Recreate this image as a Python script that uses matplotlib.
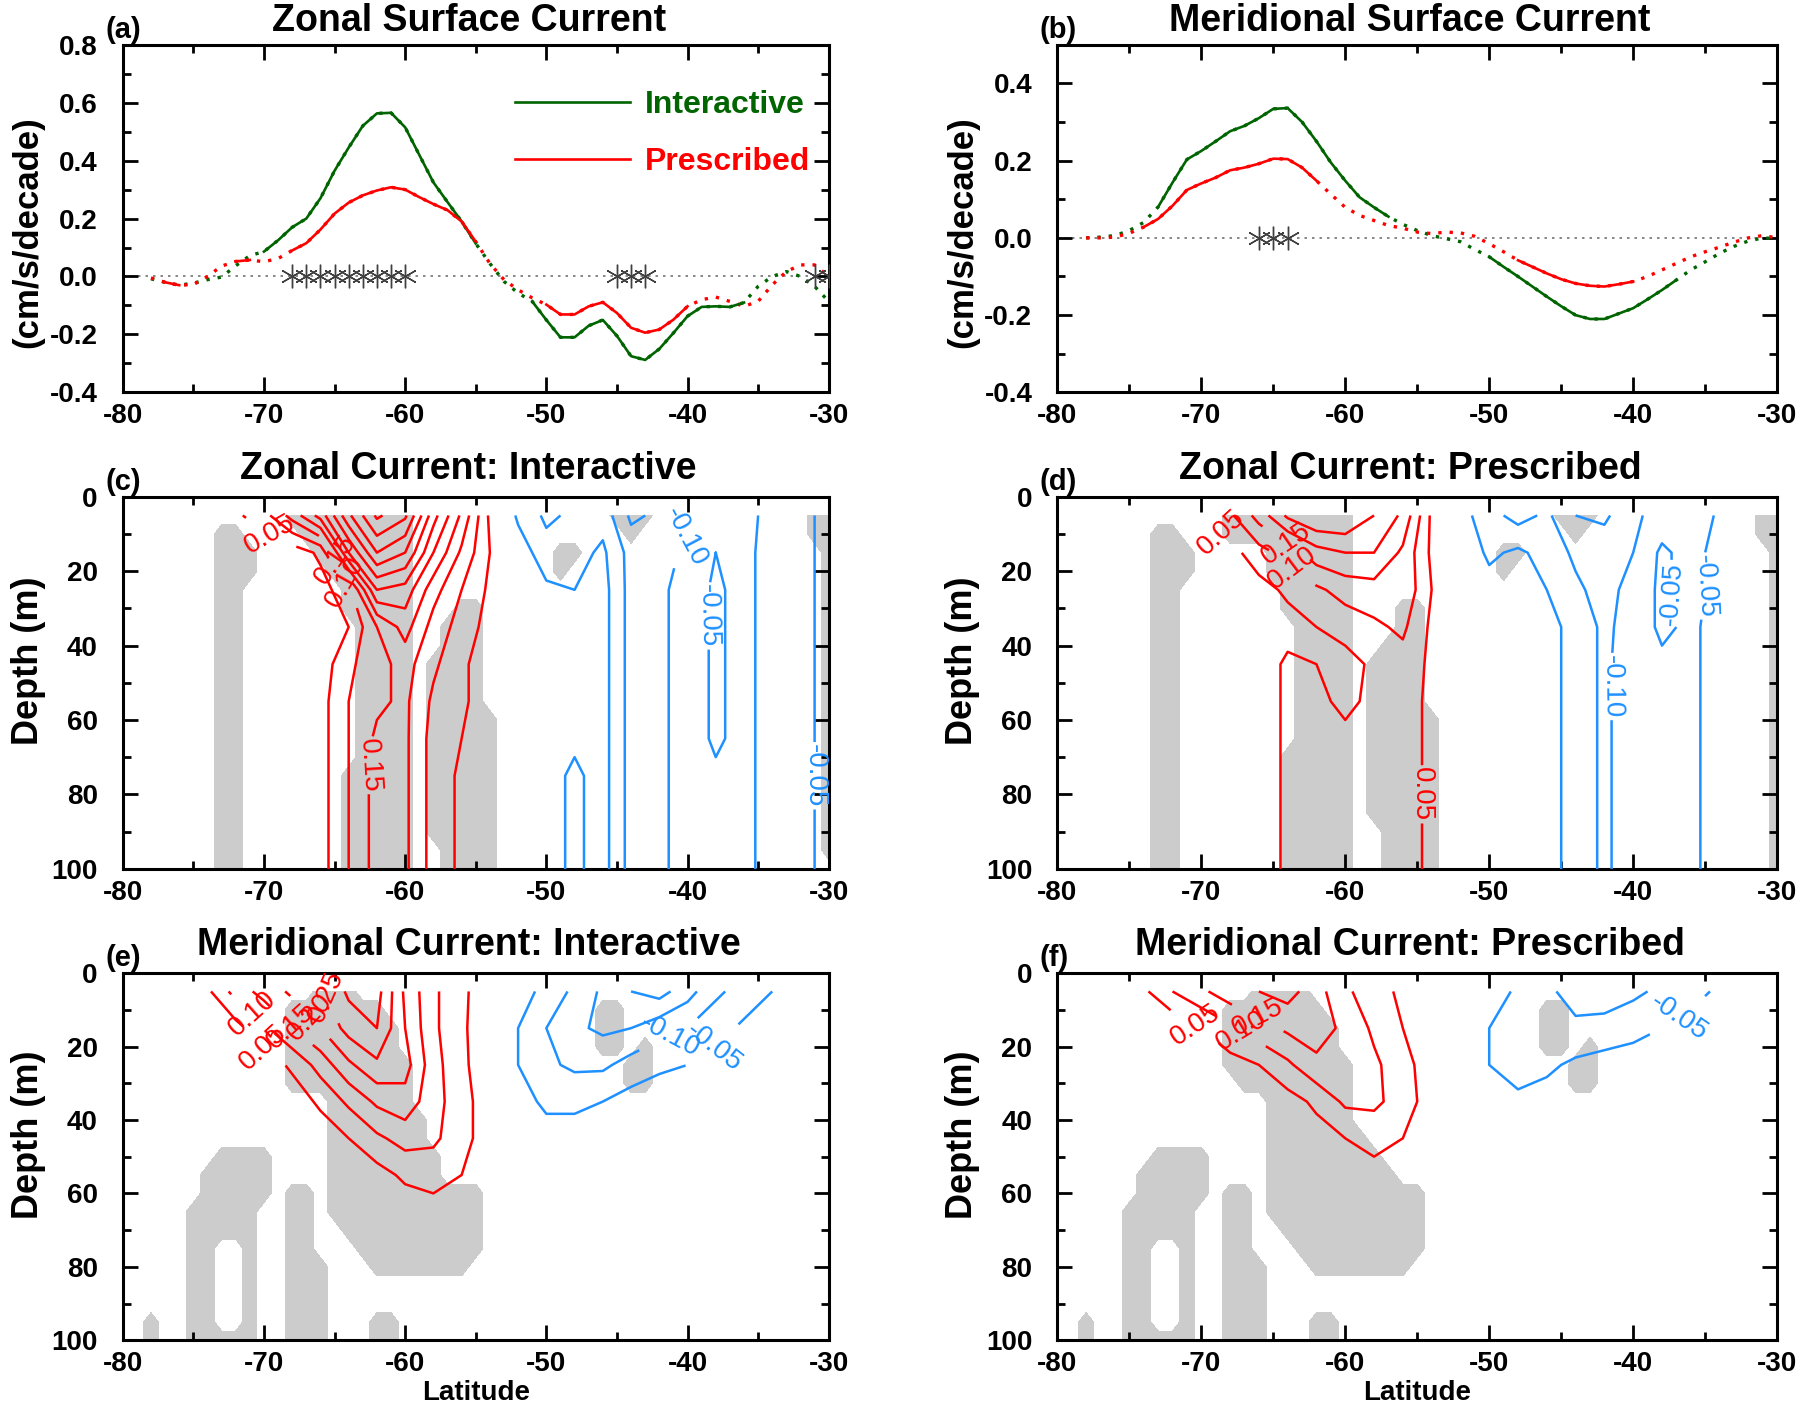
import numpy as np
import matplotlib
matplotlib.use("Agg")
import matplotlib.pyplot as plt
from matplotlib.lines import Line2D
from matplotlib.ticker import FormatStrFormatter

plt.rcParams['font.family'] = ['Liberation Sans', 'DejaVu Sans']
plt.rcParams['font.weight'] = 'bold'
plt.rcParams['axes.labelweight'] = 'bold'
plt.rcParams['axes.unicode_minus'] = False
plt.rcParams['axes.linewidth'] = 2.2

GREEN = '#006400'
RED = '#ff0000'
BLUE = '#1e90ff'
SHADE = '#cccccc'

# ---- surface current trends (cm/s/decade), 1 deg steps 78S..30S
lat_line = np.arange(-78, -29)
u_int = [-0.008, -0.02, -0.03, -0.023, -0.011, -0.002, 0.037, 0.072, 0.086, 0.125,
         0.17, 0.20, 0.27, 0.365, 0.445, 0.52, 0.563, 0.565, 0.515, 0.42,
         0.325, 0.257, 0.19, 0.114, 0.045, -0.017, -0.057, -0.086, -0.15, -0.21,
         -0.21, -0.17, -0.15, -0.205, -0.275, -0.288, -0.25, -0.195, -0.137, -0.105,
         -0.103, -0.105, -0.09, -0.034, 0.0, 0.017, 0.0, -0.034, -0.086]
u_pre = [-0.005, -0.02, -0.03, -0.028, 0.0, 0.036, 0.052, 0.057, 0.051, 0.062,
         0.09, 0.115, 0.162, 0.217, 0.255, 0.28, 0.297, 0.308, 0.30, 0.274,
         0.25, 0.229, 0.19, 0.12, 0.045, -0.011, -0.046, -0.074, -0.097, -0.131,
         -0.131, -0.103, -0.089, -0.126, -0.177, -0.194, -0.183, -0.149, -0.103, -0.08,
         -0.071, -0.086, -0.103, -0.086, -0.029, 0.017, 0.04, 0.04, 0.0]
v_int = [0.0, 0.002, 0.006, 0.019, 0.04, 0.08, 0.143, 0.203, 0.225, 0.25,
         0.276, 0.29, 0.31, 0.334, 0.336, 0.30, 0.25, 0.195, 0.148, 0.105,
         0.079, 0.055, 0.035, 0.019, 0.006, -0.002, -0.01, -0.03, -0.049, -0.075,
         -0.1, -0.126, -0.152, -0.177, -0.2, -0.21, -0.21, -0.196, -0.182, -0.159,
         -0.135, -0.109, -0.083, -0.062, -0.04, -0.022, -0.008, 0.0, -0.002]
v_pre = [0.0, 0.0, 0.002, 0.012, 0.028, 0.049, 0.083, 0.124, 0.141, 0.156,
         0.175, 0.182, 0.192, 0.205, 0.204, 0.182, 0.148, 0.113, 0.079, 0.058,
         0.045, 0.032, 0.025, 0.015, 0.011, 0.015, 0.013, 0.004, -0.015, -0.036,
         -0.058, -0.075, -0.092, -0.107, -0.118, -0.124, -0.126, -0.12, -0.113, -0.1,
         -0.083, -0.066, -0.049, -0.036, -0.024, -0.011, 0.0, 0.006, 0.0]

# significant points (1 -> solid line, 0 -> dotted)
u_int_sig = "0" * 8 + "1" * 16 + "0" * 3 + "1" * 16 + "0" * 6
u_pre_sig = "0" + "11" + "000" + "11" + "00" + "1" * 14 + "0" * 4 + "1" * 11 + "0" * 10
v_int_sig = "0" * 5 + "1" * 17 + "0" * 6 + "1" * 14 + "0" * 7
v_pre_sig = "0" * 4 + "1" * 13 + "0" * 13 + "1" * 9 + "0" * 10

# latitudes where the two runs differ significantly
star_u = [-68, -67, -66, -65, -64, -63, -62, -61, -60, -45, -44, -43, -31, -30]
star_v = [-66, -65, -64]

# ---- depth sections (cm/s/decade x 100), 2 deg x 10 m grid
sec_lat = np.arange(-80, -29, 2)
sec_dep = [5, 15, 25, 35, 45, 55, 65, 75, 85, 95, 105]

u_int_sec = [
    [0, 0, -3, 0, 4, 8, 17, 27, 44, 56, 51, 32, 19, 4, -6, -11, -9, -7, -16, -14, -11, -9, -8, -2, -2, -8],
    [0, 0, 0, 0, 1, 1, 2, 6, 30, 45, 40, 25, 14, 5, -2, -8, -7, -4, -12, -12, -9, -5, -7, -2, -3, -7],
    [0, 0, 0, 0, 0, 0, 1, 3, 8, 30, 28, 17, 10, 4, 0, -4, -5, -3, -12, -11, -8, -4, -7, -2, -3, -7],
    [0, 0, 0, 0, 0, 0, 0, 2, 5, 15, 22, 13, 8, 3, 0, -3, -3, -3, -12, -11, -8, -4, -7, -2, -3, -7],
    [0, 0, 0, 0, 0, 0, 0, 2, 9, 13, 17, 11, 6, 2, 0, -3, -4, -3, -12, -11, -8, -4, -7, -2, -3, -7],
    [0, 0, 0, 0, 0, 0, 0, 3, 10, 14, 16, 9, 6, 2, 0, -3, -4, -3, -12, -11, -8, -4, -7, -2, -3, -7],
    [0, 0, 0, 0, 0, 0, 0, 3, 10, 16, 16, 8, 5, 2, 0, -3, -4, -3, -12, -11, -8, -4, -7, -2, -3, -7],
    [0, 0, 0, 0, 0, 0, 0, 3, 10, 17, 16, 8, 4, 2, 0, -3, -6, -3, -12, -11, -8, -6, -7, -2, -3, -7],
    [0, 0, 0, 0, 0, 0, 0, 3, 10, 17, 16, 8, 4, 2, 0, -3, -6, -3, -12, -11, -8, -6, -7, -2, -3, -7],
    [0, 0, 0, 0, 0, 0, 0, 3, 10, 17, 16, 8, 4, 2, 0, -3, -6, -3, -12, -11, -8, -6, -7, -2, -3, -7],
    [0, 0, 0, 0, 0, 0, 0, 3, 10, 17, 16, 8, 4, 2, 0, -3, -6, -3, -12, -11, -8, -6, -7, -2, -3, -7],
]
u_pre_sec = [
    [0, 0, -3, 0, 5, 5, 9, 17, 26, 30, 30, 25, 19, 4, -3, -8, -12, -9, -15, -16, -11, -8, -9, -4, 3, 0],
    [0, 0, 0, 0, 1, 2, 3, 8, 12, 18, 20, 20, 14, 4, -1, -6, -4, -7, -11, -12, -10, -4, -7, -3, -1, -2],
    [0, 0, 0, 0, 0, 0, 1, 3, 6, 9, 12, 13, 14, 5, 0, -3, -4, -5, -9, -12, -8, -4, -7, -3, -1, -2],
    [0, 0, 0, 0, 0, 0, 0, 2, 3, 5, 7, 9, 11, 4, 0, -2, -3, -3, -7, -11, -8, -4, -6, -3, -1, -2],
    [0, 0, 0, 0, 0, 0, 0, 2, 6, 5, 3, 6, 8, 4, 1, -1, -2, -3, -7, -11, -7, -6, -6, -3, -1, -1],
    [0, 0, 0, 0, 0, 0, 0, 2, 6, 6, 4, 6, 7, 4, 1, -1, -2, -3, -7, -11, -7, -6, -6, -3, -1, -1],
    [0, 0, 0, 0, 0, 0, 0, 2, 6, 7, 6, 6, 7, 4, 1, -1, -2, -3, -7, -11, -7, -6, -6, -3, -1, -1],
    [0, 0, 0, 0, 0, 0, 0, 2, 6, 7, 7, 7, 7, 4, 1, -1, -2, -3, -7, -11, -7, -6, -6, -3, -1, -1],
    [0, 0, 0, 0, 0, 0, 0, 2, 6, 7, 7, 7, 7, 4, 1, -1, -2, -3, -7, -11, -7, -6, -6, -3, -1, -1],
    [0, 0, 0, 0, 0, 0, 0, 2, 6, 7, 7, 7, 7, 4, 1, -1, -2, -3, -7, -11, -7, -6, -6, -3, -1, -1],
    [0, 0, 0, 0, 0, 0, 0, 2, 6, 7, 7, 7, 7, 4, 1, -1, -2, -3, -7, -11, -7, -6, -6, -3, -1, -1],
]
v_int_sec = [
    [0, 0, 0, 4, 12, 17, 21, 24, 31, 32, 19, 11, 6, 2, -2, -7, -11, -16, -20, -22, -17, -11, -8, -5, -2, 0],
    [0, 0, 0, 0, 3, 9, 15, 20, 27, 30, 20, 11, 6, 1, -5, -10, -14, -16, -15, -12, -10, -7, -4, -2, 0, 0],
    [0, 0, 0, 0, 0, 2, 6, 12, 19, 24, 22, 12, 6, 2, -5, -9, -11, -11, -8, -6, -5, -3, -2, -1, 0, 0],
    [0, 0, 0, 0, 0, 0, 2, 6, 11, 16, 18, 12, 7, 2, -3, -6, -6, -5, -3, -2, -1, 0, 0, 0, 0, 0],
    [0, 0, 0, 0, 0, 0, 0, 2, 5, 9, 12, 11, 7, 2, -1, -3, -3, -2, -1, 0, 0, 0, 0, 0, 0, 0],
    [0, 0, 0, 0, 0, 0, 0, 0, 1, 3, 6, 7, 5, 1, 0, -1, -1, -1, 0, 0, 0, 0, 0, 0, 0, 0],
    [0, 0, 0, 0, 0, 0, 0, 0, 0, 1, 2, 3, 2, 1, 0, 0, 0, 0, 0, 0, 0, 0, 0, 0, 0, 0],
    [0, 0, 0, 0, 0, 0, 0, 0, 0, 0, 1, 1, 1, 0, 0, 0, 0, 0, 0, 0, 0, 0, 0, 0, 0, 0],
    [0, 0, 0, 0, 0, 0, 0, 0, 0, 0, 0, 0, 0, 0, 0, 0, 0, 0, 0, 0, 0, 0, 0, 0, 0, 0],
    [0, 0, 0, 0, 0, 0, 0, 0, 0, 0, 0, 0, 0, 0, 0, 0, 0, 0, 0, 0, 0, 0, 0, 0, 0, 0],
    [0, 0, 0, 0, 0, 0, 0, 0, 0, 0, 0, 0, 0, 0, 0, 0, 0, 0, 0, 0, 0, 0, 0, 0, 0, 0],
]
v_pre_sec = [
    [0, 0, 1, 4, 10, 14, 18, 20, 22, 17, 11, 7, 4, 1, 0, -2, -6, -9, -12, -13, -11, -9, -7, -4, -1, 0],
    [0, 0, 0, 0, 1, 5, 9, 13, 16, 17, 14, 9, 5, 1, -1, -5, -7, -9, -9, -8, -7, -5, -3, -1, 0, 0],
    [0, 0, 0, 0, 0, 1, 3, 5, 9, 14, 15, 11, 7, 2, -2, -5, -7, -6, -4, -3, -2, -1, 0, 0, 0, 0],
    [0, 0, 0, 0, 0, 0, 0, 1, 3, 6, 11, 11, 8, 2, 0, -3, -4, -3, -1, 0, 0, 0, 0, 0, 0, 0],
    [0, 0, 0, 0, 0, 0, 0, 0, 1, 3, 5, 7, 5, 1, 0, 0, -1, 0, 0, 0, 0, 0, 0, 0, 0, 0],
    [0, 0, 0, 0, 0, 0, 0, 0, 0, 1, 2, 3, 2, 0, 0, 0, 0, 0, 0, 0, 0, 0, 0, 0, 0, 0],
    [0, 0, 0, 0, 0, 0, 0, 0, 0, 0, 0, 0, 0, 0, 0, 0, 0, 0, 0, 0, 0, 0, 0, 0, 0, 0],
    [0, 0, 0, 0, 0, 0, 0, 0, 0, 0, 0, 0, 0, 0, 0, 0, 0, 0, 0, 0, 0, 0, 0, 0, 0, 0],
    [0, 0, 0, 0, 0, 0, 0, 0, 0, 0, 0, 0, 0, 0, 0, 0, 0, 0, 0, 0, 0, 0, 0, 0, 0, 0],
    [0, 0, 0, 0, 0, 0, 0, 0, 0, 0, 0, 0, 0, 0, 0, 0, 0, 0, 0, 0, 0, 0, 0, 0, 0, 0],
    [0, 0, 0, 0, 0, 0, 0, 0, 0, 0, 0, 0, 0, 0, 0, 0, 0, 0, 0, 0, 0, 0, 0, 0, 0, 0],
]

# ---- significance shading on a 1 deg x 5 m grid
# blocks: (depth from, depth to, lat from, lat to, value)
mask_lat = np.arange(-80, -29)
mask_dep = np.arange(5, 101, 5)

shade_c = [
    (10, 10, -73, -72, 1), (15, 20, -73, -71, 1), (25, 100, -73, -72, 1),
    (5, 5, -68, -60, 1), (10, 10, -67, -60, 1), (15, 15, -66, -60, 1), (20, 20, -65, -60, 1),
    (25, 30, -64, -60, 1), (35, 70, -63, -60, 1), (75, 100, -64, -60, 1),
    (30, 30, -56, -55, 1), (35, 40, -57, -55, 1), (45, 55, -58, -55, 1),
    (60, 90, -58, -54, 1), (95, 100, -57, -54, 1),
    (5, 5, -45, -43, 1), (10, 10, -44, -44, 1), (15, 15, -49, -48, 1), (20, 20, -49, -49, 1),
    (5, 10, -31, -30, 1), (15, 95, -30, -30, 1),
]
shade_d = [
    (10, 10, -73, -72, 1), (15, 20, -73, -71, 1), (25, 100, -73, -72, 1),
    (5, 10, -68, -60, 1), (15, 20, -65, -60, 1), (25, 30, -64, -60, 1),
    (35, 65, -63, -60, 1), (70, 100, -64, -60, 1),
    (30, 35, -56, -55, 1), (40, 40, -57, -55, 1), (45, 55, -58, -55, 1),
    (60, 85, -58, -54, 1), (90, 100, -57, -54, 1),
    (5, 5, -45, -43, 1), (10, 10, -44, -44, 1), (15, 15, -49, -48, 1), (20, 20, -49, -49, 1),
    (5, 10, -31, -30, 1), (15, 100, -30, -30, 1),
]
shade_e = [
    (95, 100, -78, -78, 1),
    (50, 50, -73, -70, 1), (55, 60, -74, -70, 1), (65, 100, -75, -71, 1), (75, 95, -73, -72, 0),
    (60, 75, -68, -67, 1), (80, 100, -68, -66, 1),
    (5, 5, -66, -64, 1), (10, 10, -68, -62, 1), (15, 20, -68, -61, 1), (25, 30, -68, -60, 1),
    (35, 35, -65, -60, 1), (40, 45, -65, -59, 1), (50, 55, -65, -58, 1), (60, 65, -65, -55, 1),
    (70, 70, -64, -55, 1), (75, 75, -63, -55, 1), (80, 80, -62, -56, 1),
    (95, 100, -62, -61, 1),
    (10, 20, -46, -45, 1), (20, 20, -43, -43, 1), (25, 30, -44, -43, 1),
]
shade_f = [
    (95, 100, -78, -78, 1),
    (50, 50, -73, -70, 1), (55, 60, -74, -70, 1), (65, 100, -75, -71, 1), (75, 95, -73, -72, 0),
    (60, 75, -68, -67, 1), (80, 100, -68, -66, 1),
    (5, 5, -66, -63, 1), (10, 10, -68, -62, 1), (15, 20, -68, -61, 1), (25, 25, -68, -60, 1),
    (30, 30, -67, -60, 1), (35, 40, -65, -60, 1), (45, 45, -65, -59, 1), (50, 50, -65, -58, 1),
    (55, 55, -65, -57, 1), (60, 65, -65, -55, 1), (70, 70, -64, -55, 1), (75, 75, -63, -55, 1),
    (80, 80, -62, -56, 1),
    (95, 100, -62, -61, 1),
    (10, 20, -46, -45, 1), (20, 20, -43, -43, 1), (25, 30, -44, -43, 1),
]


def build_mask(blocks):
    m = np.zeros((len(mask_dep), len(mask_lat)))
    for d0, d1, l0, l1, v in blocks:
        rows = (mask_dep >= d0) & (mask_dep <= d1)
        cols = (mask_lat >= l0) & (mask_lat <= l1)
        m[np.ix_(rows, cols)] = v
    return m


def frame(ax, title, letter, title_off):
    ax.set_xlim(-80, -30)
    ax.set_xticks(np.arange(-80, -29, 10))
    ax.set_xticks(np.arange(-75, -30, 10), minor=True)
    ax.tick_params(which='both', direction='in', top=True, right=True, width=2.0,
                   labelsize=20)
    ax.tick_params(axis='x', pad=8)
    ax.tick_params(axis='y', pad=18)
    ax.tick_params(which='major', length=11)
    ax.tick_params(which='minor', length=6)
    ax.annotate(title, xy=(0.49, 1), xycoords='axes fraction', xytext=(0, title_off),
                textcoords='offset points', ha='center', va='baseline',
                fontsize=27, fontweight='bold')
    ax.annotate(letter, xy=(-0.025, 1), xycoords='axes fraction', xytext=(0, 5),
                textcoords='offset points', ha='left', va='baseline',
                fontsize=21, fontweight='bold')


def line_panel(ax, series, ylim, ymajor):
    ax.axhline(0, color='0.45', lw=1.2, ls=(0, (1.5, 3)), zorder=1)
    for vals, sig, col in series:
        y = np.array(vals)
        s = np.array([c == '1' for c in sig])
        ax.plot(lat_line, y, color=col, lw=2.4, ls=(0, (1, 2.4)), dash_capstyle='butt', zorder=2)
        ax.plot(lat_line, np.where(s, y, np.nan), color=col, lw=1.9, zorder=3)
    ax.set_ylim(*ylim)
    ax.set_yticks(ymajor)
    ax.set_yticks(np.arange(ylim[0], ylim[1] + 0.01, 0.1), minor=True)
    ax.yaxis.set_major_formatter(FormatStrFormatter('%.1f'))
    ax.set_ylabel('(cm/s/decade)', fontsize=25, labelpad=4)
    ax.yaxis.label.set_y(0.46)


def section_panel(ax, field, blocks, red_at, blue_at):
    f = np.array(field) / 100.0
    ax.contourf(mask_lat, mask_dep, build_mask(blocks), levels=[0.5, 1.5],
                colors=[SHADE], zorder=1)
    pos = ax.contour(sec_lat, sec_dep, f, levels=np.arange(0.05, 0.66, 0.05),
                     colors=RED, linewidths=1.8, zorder=3)
    neg = ax.contour(sec_lat, sec_dep, f, levels=np.arange(-0.50, -0.04, 0.05),
                     colors=BLUE, linewidths=1.8, linestyles='solid', zorder=3)
    txt = []
    if red_at:
        txt += ax.clabel(pos, fmt='%.2f', fontsize=20, inline=True, inline_spacing=2,
                         manual=red_at)
    if blue_at:
        txt += ax.clabel(neg, fmt='%.2f', fontsize=20, inline=True, inline_spacing=2,
                         manual=blue_at)
    for t in txt:
        t.set_fontweight('normal')
    ax.set_ylim(100, 0)
    ax.set_yticks(np.arange(0, 101, 20))
    ax.set_yticks(np.arange(10, 100, 20), minor=True)
    ax.set_ylabel('Depth (m)', fontsize=26, labelpad=4)
    ax.yaxis.label.set_y(0.56)


fig = plt.figure(figsize=(18, 14.16), dpi=100)
ax_a = fig.add_axes([0.0682, 0.7229, 0.3922, 0.2455])
ax_b = fig.add_axes([0.5874, 0.7229, 0.3999, 0.2455])
ax_c = fig.add_axes([0.0682, 0.3865, 0.3922, 0.2626])
ax_d = fig.add_axes([0.5874, 0.3865, 0.3999, 0.2626])
ax_e = fig.add_axes([0.0682, 0.0535, 0.3922, 0.2593])
ax_f = fig.add_axes([0.5874, 0.0535, 0.3999, 0.2593])

# (a) zonal surface current
line_panel(ax_a, [(u_int, u_int_sig, GREEN), (u_pre, u_pre_sig, RED)],
           (-0.4, 0.8), np.arange(-0.4, 0.81, 0.2))
ax_a.plot(star_u, np.zeros(len(star_u)), ls='none', marker=(6, 2, 0), ms=17,
          mew=1.0, color='0.25', zorder=4)
handles = [Line2D([], [], color=GREEN, lw=1.9), Line2D([], [], color=RED, lw=1.9)]
ax_a.legend(handles, ['Interactive', 'Prescribed'], loc='upper left',
            bbox_to_anchor=(0.515, 0.952), frameon=False, handlelength=3.6,
            handletextpad=0.45, labelspacing=0.85, labelcolor=[GREEN, RED],
            prop={'size': 23, 'weight': 'bold'})
frame(ax_a, 'Zonal Surface Current', '(a)', 10)

# (b) meridional surface current
line_panel(ax_b, [(v_int, v_int_sig, GREEN), (v_pre, v_pre_sig, RED)],
           (-0.4, 0.5), np.arange(-0.4, 0.41, 0.2))
ax_b.plot(star_v, np.zeros(len(star_v)), ls='none', marker=(6, 2, 0), ms=17,
          mew=1.0, color='0.25', zorder=4)
frame(ax_b, 'Meridional Surface Current', '(b)', 10)

# (c)-(f) depth sections
section_panel(ax_c, u_int_sec, shade_c,
              [(-69.5, 9.5), (-65.0, 17), (-64.3, 23), (-63.0, 72)],
              [(-40.5, 10), (-39.2, 32), (-30.6, 75)])
frame(ax_c, 'Zonal Current: Interactive', '(c)', 13)
section_panel(ax_d, u_pre_sec, shade_d,
              [(-68.5, 9), (-64.2, 13), (-63.5, 18), (-54.9, 80)],
              [(-37.3, 26), (-35.2, 24), (-41.7, 51)])
frame(ax_d, 'Zonal Current: Prescribed', '(d)', 13)
section_panel(ax_e, v_int_sec, shade_e,
              [(-70.0, 20), (-71.0, 12), (-68.5, 16), (-67.0, 13), (-66.5, 8)],
              [(-41.5, 15), (-38.0, 21)])
frame(ax_e, 'Meridional Current: Interactive', '(e)', 13)
section_panel(ax_f, v_pre_sec, shade_f,
              [(-70.8, 17), (-67.6, 18), (-65.8, 10)],
              [(-36.5, 14)])
frame(ax_f, 'Meridional Current: Prescribed', '(f)', 13)
for ax in (ax_e, ax_f):
    ax.set_xlabel('Latitude', fontsize=20, labelpad=2)

fig.savefig('out.png', dpi=100, facecolor='white')
